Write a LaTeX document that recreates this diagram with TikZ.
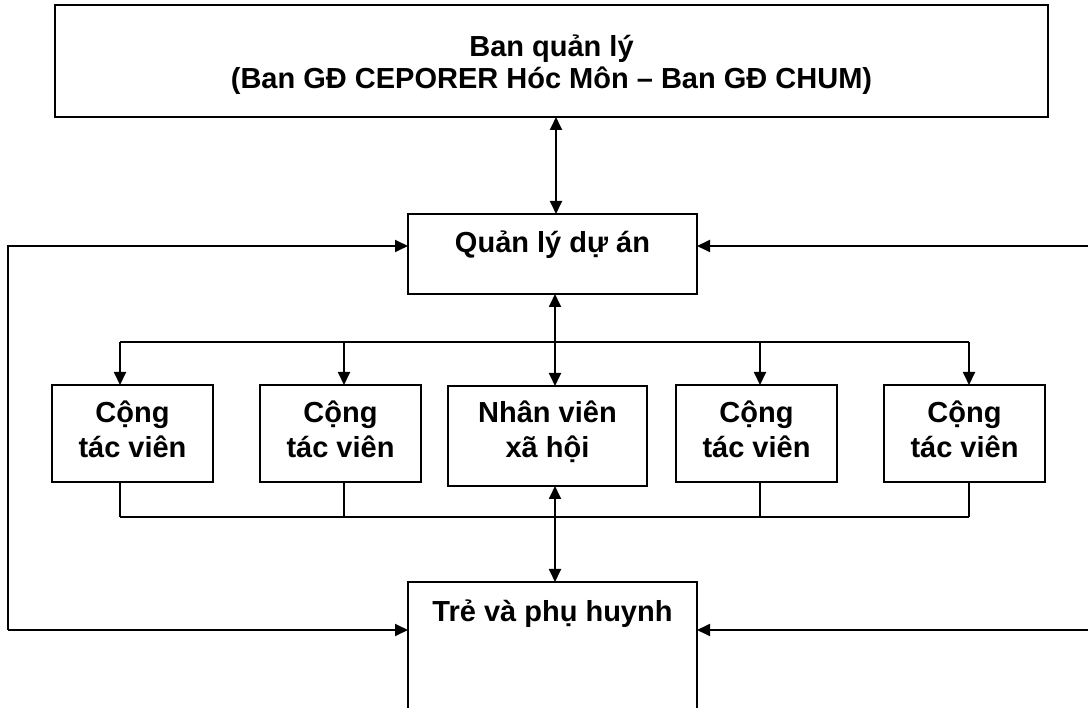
\documentclass[tikz,border=0pt]{standalone}
\usepackage{fontspec}
\setmainfont{Liberation Sans}
\usetikzlibrary{arrows.meta}
\begin{document}
\begin{tikzpicture}[x=1pt,y=-1pt,
  box/.style={draw, line width=2pt, inner sep=0pt, outer sep=0pt, anchor=north west},
  lbl/.style={font=\fontsize{29}{35}\selectfont\bfseries, inner sep=0pt, anchor=base},
  conn/.style={line width=1.8pt},
  thin/.style={line width=1.3pt},
  onetip/.style={-{Triangle[length=13pt,width=12pt]}},
  twotip/.style={{Triangle[length=13pt,width=12pt]}-{Triangle[length=13pt,width=12pt]}}]
\useasboundingbox (0,0) rectangle (1088,708);
\clip (0,0) rectangle (1088,708);
% boxes
\node[box, minimum width=993pt, minimum height=112pt] (top) at (55,5) {};
\node[box, minimum width=289pt, minimum height=80pt] (qlda) at (408,214) {};
\node[box, minimum width=161pt, minimum height=97pt] (c1) at (52,385) {};
\node[box, minimum width=161pt, minimum height=97pt] (c2) at (260,385) {};
\node[box, minimum width=199pt, minimum height=100pt] (nv) at (448,386) {};
\node[box, minimum width=161pt, minimum height=97pt] (c4) at (676,385) {};
\node[box, minimum width=161pt, minimum height=97pt] (c5) at (884,385) {};
\node[box, minimum width=289pt, minimum height=200pt] (tre) at (408,582) {};
% texts
\node[lbl] (topA) at (551.5,57) {Ban quản lý};
\node[lbl] (topB) at (551.5,89) {(Ban GĐ CEPORER Hóc Môn – Ban GĐ CHUM)};
\node[lbl] (qldaT) at (552.5,253) {Quản lý dự án};
\node[lbl] (c1A) at (132.5,423) {Cộng};
\node[lbl] (c1B) at (132.5,458) {tác viên};
\node[lbl] (c2A) at (340.5,423) {Cộng};
\node[lbl] (c2B) at (340.5,458) {tác viên};
\node[lbl] (nvA) at (547.5,423) {Nhân viên};
\node[lbl] (nvB) at (547.5,458) {xã hội};
\node[lbl] (c4A) at (756.5,423) {Cộng};
\node[lbl] (c4B) at (756.5,458) {tác viên};
\node[lbl] (c5A) at (964.5,423) {Cộng};
\node[lbl] (c5B) at (964.5,458) {tác viên};
\node[lbl] (treT) at (552.5,621) {Trẻ và phụ huynh};
% coordinates
\coordinate (bL) at (120,342);
\coordinate (b2) at (344,342);
\coordinate (bM) at (555,342);
\coordinate (b4) at (760,342);
\coordinate (bR) at (969,342);
\coordinate (lL) at (120,517);
\coordinate (lR) at (969,517);
\coordinate (fL1) at (8,246);
\coordinate (fL2) at (8,630);
\coordinate (fR1) at (1100,246);
\coordinate (fR2) at (1100,630);
% main vertical connectors
\draw[conn, twotip] (top.south -| 556,0) -- (qlda.north -| 556,0);
\draw[conn, twotip] (qlda.south -| bM) -- (nv.north -| bM);
\draw[conn, twotip] (nv.south -| bM) -- (tre.north -| bM);
% distribution bar
\draw[conn] (bL) -- (bR);
\draw[conn, onetip] (bL) -- (c1.north -| bL);
\draw[conn, onetip] (b2) -- (c2.north -| b2);
\draw[conn, onetip] (b4) -- (c4.north -| b4);
\draw[conn, onetip] (bR) -- (c5.north -| bR);
% lower bar
\draw[conn] (lL) -- (lR);
\draw[thin] (c1.south -| lL) -- (lL);
\draw[thin] (c2.south -| b2) -- (b2 |- lL);
\draw[thin] (c4.south -| b4) -- (b4 |- lL);
\draw[thin] (c5.south -| lR) -- (lR);
% feedback loops
\draw[conn, onetip] (fL2) -- (fL1) -- (qlda.west |- fL1);
\draw[conn, onetip] (fL2) -- (tre.west |- fL2);
\draw[conn, onetip] (fR2) -- (fR1) -- (qlda.east |- fR1);
\draw[conn, onetip] (fR2) -- (tre.east |- fR2);
\end{tikzpicture}
\end{document}
